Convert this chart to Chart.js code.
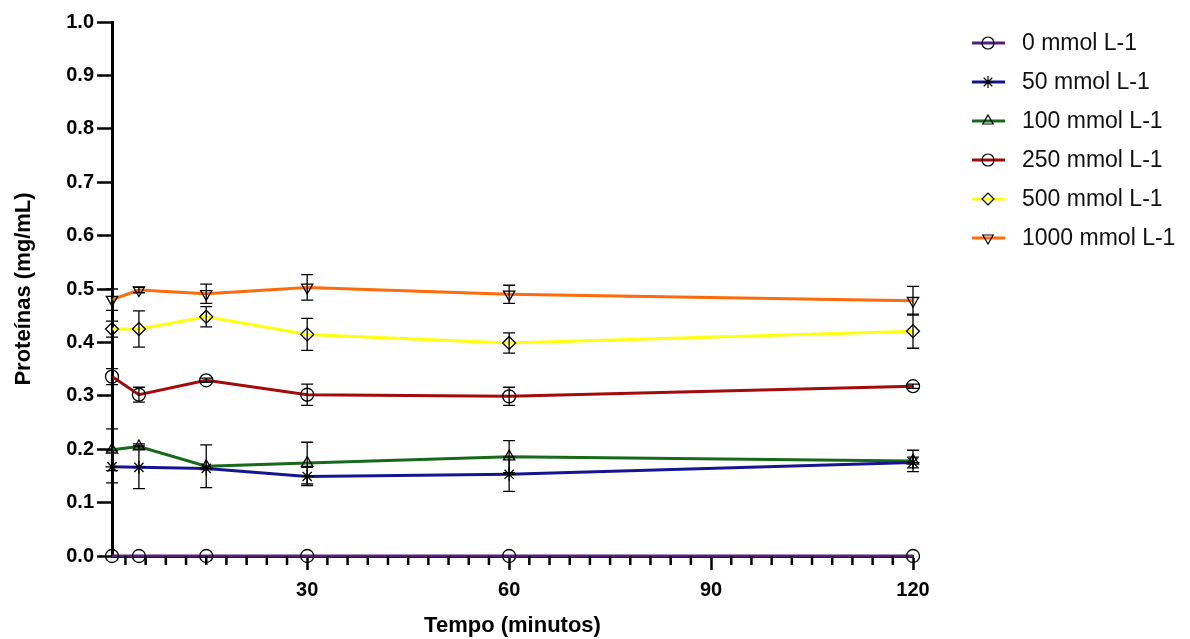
<!DOCTYPE html>
<html>
<head>
<meta charset="utf-8">
<script src="https://cdn.jsdelivr.net/npm/chart.js@4.4.1/dist/chart.umd.min.js"></script>
<style>
  html, body { margin: 0; padding: 0; background: #fff; }
  #wrap { width: 1190px; height: 639px; }
</style>
</head>
<body>
<div id="wrap"><canvas id="proteinChart" width="1190" height="639"></canvas></div>
<script>
// Tempo de coleta (minutos)
const tempos = [1, 5, 15, 30, 60, 120];

// Concentrações
const concentracoes = ['0 mmol L-1', '50 mmol L-1', '100 mmol L-1', '250 mmol L-1', '500 mmol L-1', '1000 mmol L-1'];

// Médias de proteínas (mg/mL)
const prot0    = [0, 0, 0, 0, 0, 0];
const prot50   = [0.167, 0.166, 0.164, 0.149, 0.153, 0.175];
const prot100  = [0.199, 0.205, 0.168, 0.174, 0.186, 0.178];
const prot250  = [0.336, 0.302, 0.329, 0.302, 0.299, 0.318];
const prot500  = [0.425, 0.425, 0.448, 0.415, 0.399, 0.421];
const prot1000 = [0.480, 0.498, 0.491, 0.503, 0.490, 0.478];

// Desvios (barras de erro)
const erro0    = [0, 0, 0, 0, 0, 0];
const erro50   = [0.030, 0.040, 0, 0.017, 0.032, 0.010];
const erro100  = [0.039, 0.005, 0.040, 0.039, 0.030, 0.020];
const erro250  = [0.015, 0.014, 0.004, 0.020, 0.017, 0.004];
const erro500  = [0.015, 0.034, 0.019, 0.030, 0.019, 0.032];
const erro1000 = [0.020, 0.005, 0.018, 0.024, 0.017, 0.027];

// Ticks
const ticksX = [30, 60, 90, 120];
const ticksXMenores = [];
for (let t = 3; t < 120; t += 3) if (t % 30 !== 0) ticksXMenores.push(t);

const cores = ['#56207A', '#15168F', '#18691A', '#A30A0A', '#FFFF10', '#FF6A0A'];
const estilos = [
  { style: 'circle', rot: 0 },
  { style: 'star', rot: 0 },
  { style: 'triangle', rot: 0 },
  { style: 'circle', rot: 0 },
  { style: 'rectRot', rot: 0 },
  { style: 'triangle', rot: 180 }
];
const medias = [prot0, prot50, prot100, prot250, prot500, prot1000];
const erros = [erro0, erro50, erro100, erro250, erro500, erro1000];

const FONTE = '"Liberation Sans", Arial, Helvetica, sans-serif';

const datasets = concentracoes.map((nome, i) => ({
  label: nome,
  data: tempos.map((t, j) => ({ x: t, y: medias[i][j] })),
  erros: erros[i],
  borderColor: cores[i],
  borderWidth: 3,
  pointStyle: estilos[i].style,
  pointRotation: estilos[i].rot,
  pointRadius: 6.5,
  pointBorderColor: '#000',
  pointBorderWidth: 1.3,
  pointBackgroundColor: 'rgba(0,0,0,0)',
  tension: 0,
  clip: false
}));

// Barras de erro, ticks menores e legenda
const extrasPlugin = {
  id: 'extras',
  afterDatasetsDraw(chart) {
    const { ctx, scales: { x, y }, chartArea } = chart;
    ctx.save();

    // barras de erro
    ctx.strokeStyle = '#000';
    ctx.lineWidth = 1.3;
    chart.data.datasets.forEach(ds => {
      ds.data.forEach((p, j) => {
        const e = ds.erros[j];
        if (!e) return;
        const px = x.getPixelForValue(p.x);
        const yTop = y.getPixelForValue(p.y + e);
        const yBot = y.getPixelForValue(p.y - e);
        ctx.beginPath();
        ctx.moveTo(px, yTop); ctx.lineTo(px, yBot);
        ctx.moveTo(px - 6, yTop); ctx.lineTo(px + 6, yTop);
        ctx.moveTo(px - 6, yBot); ctx.lineTo(px + 6, yBot);
        ctx.stroke();
      });
    });

    // ticks menores do eixo x
    ctx.lineWidth = 2.5;
    ctx.beginPath();
    ticksXMenores.forEach(t => {
      const px = x.getPixelForValue(t);
      ctx.moveTo(px, chartArea.bottom);
      ctx.lineTo(px, chartArea.bottom + 9);
    });
    ctx.stroke();

    // legenda
    const lx = chartArea.right + 59;
    chart.data.datasets.forEach((ds, i) => {
      const ly = chartArea.top + 21 + i * 39;
      ctx.strokeStyle = ds.borderColor;
      ctx.lineWidth = 3;
      ctx.beginPath();
      ctx.moveTo(lx, ly); ctx.lineTo(lx + 33, ly);
      ctx.stroke();
      ctx.strokeStyle = '#000';
      ctx.fillStyle = 'rgba(0,0,0,0)';
      ctx.lineWidth = 1.2;
      Chart.helpers.drawPoint(ctx, { pointStyle: ds.pointStyle, rotation: ds.pointRotation, radius: 6, borderWidth: 1.2 }, lx + 16, ly);
      ctx.fillStyle = '#111';
      ctx.font = '23px ' + FONTE;
      ctx.textBaseline = 'middle';
      ctx.textAlign = 'left';
      ctx.fillText(ds.label, lx + 50, ly + 1);
    });
    ctx.restore();
  }
};

new Chart(document.getElementById('proteinChart'), {
  type: 'line',
  data: { datasets },
  plugins: [extrasPlugin],
  options: {
    responsive: false,
    animation: false,
    devicePixelRatio: 1,
    layout: { padding: { top: 22, right: 277, bottom: 0, left: 0 } },
    plugins: { legend: { display: false }, tooltip: { enabled: false } },
    scales: {
      x: {
        type: 'linear',
        min: 1,
        max: 120,
        afterBuildTicks: s => { s.ticks = ticksX.map(v => ({ value: v })); },
        afterFit: s => { s.height = 83; },
        ticks: {
          color: '#000',
          font: { family: FONTE, size: 20, weight: 'bold' },
          padding: 8,
          maxRotation: 0,
          callback: v => String(v)
        },
        grid: { drawOnChartArea: false, tickLength: 14, tickWidth: 2.5, tickColor: '#000' },
        border: { color: '#000', width: 3 },
        title: {
          display: true,
          text: 'Tempo (minutos)',
          color: '#000',
          font: { family: FONTE, size: 22, weight: 'bold' },
          padding: { top: 0, bottom: 0 }
        }
      },
      y: {
        min: 0,
        max: 1,
        afterFit: s => { s.width = 112; },
        ticks: {
          stepSize: 0.1,
          color: '#000',
          font: { family: FONTE, size: 20, weight: 'bold' },
          padding: 3,
          callback: v => Number(v).toFixed(1)
        },
        grid: { drawOnChartArea: false, tickLength: 15, tickWidth: 2.5, tickColor: '#000' },
        border: { color: '#000', width: 3 },
        title: {
          display: true,
          text: 'Proteínas (mg/mL)',
          color: '#000',
          font: { family: FONTE, size: 22, weight: 'bold' },
          padding: { top: 11, bottom: 0 }
        }
      }
    }
  }
});
</script>
</body>
</html>
